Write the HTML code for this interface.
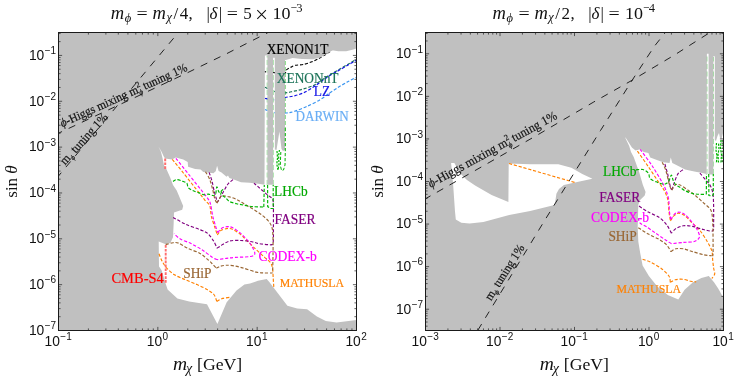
<!DOCTYPE html>
<html><head><meta charset="utf-8"><title>plot</title>
<style>html,body{margin:0;padding:0;background:#fff;overflow:hidden}svg{display:block;position:absolute;left:0;top:0;will-change:transform}.s{font-family:"Liberation Serif",serif}.n{font-family:"Liberation Sans",sans-serif}</style></head>
<body><svg width="747" height="381" viewBox="0 0 747 381">
<rect width="747" height="381" fill="#fff"/>
<rect x="58.5" y="32.5" width="298.0" height="298.0" fill="#c0c0c0"/>
<polygon points="158.4,146.2 160.2,149.5 161.7,152.0 163.5,156.0 165.0,158.5 172.1,159.4 175.8,157.5 183.2,159.4 187.7,162.1 188.1,166.7 195.1,168.9 200.6,169.5 203.3,171.9 213.4,173.2 215.7,171.3 217.1,165.8 218.6,171.0 221.5,172.4 226.5,176.7 228.0,175.6 229.4,177.9 233.8,179.6 241.0,182.2 249.6,182.8 258.3,183.7 264.5,184.7 264.9,55.6 267.4,55.6 267.4,184.7 273.1,184.7 273.1,57.7 274.8,57.7 274.9,149.5 276.5,150.0 279.4,131.4 281.5,149.0 283.0,151.0 285.0,150.0 285.0,60.2 292.6,58.1 302.0,58.9 313.0,59.2 320.9,57.3 327.2,53.4 332.0,50.2 338.3,51.3 346.1,51.3 352.4,49.8 356.5,48.5 356.5,320.0 336.6,322.6 325.8,321.0 316.9,316.5 307.1,309.2 297.2,308.6 287.4,305.7 269.7,282.6 266.7,279.1 257.9,280.7 250.0,283.6 244.4,284.6 236.5,290.5 226.7,302.3 217.4,324.0 207.0,304.3 189.2,301.4 177.4,298.4 167.6,289.5 165.6,283.6 161.6,270.2 159.0,266.4 158.7,241.6 165.7,244.2 170.3,243.1 173.0,237.2 173.6,225.0 174.0,212.4 182.2,209.7 183.2,206.0 178.6,195.0 176.7,190.6 173.0,185.0 170.3,177.7 166.6,169.5 163.9,164.9 162.5,158.0 161.0,152.0" fill="#fff"/>
<clipPath id="wl"><polygon points="158.4,146.2 160.2,149.5 161.7,152.0 163.5,156.0 165.0,158.5 172.1,159.4 175.8,157.5 183.2,159.4 187.7,162.1 188.1,166.7 195.1,168.9 200.6,169.5 203.3,171.9 213.4,173.2 215.7,171.3 217.1,165.8 218.6,171.0 221.5,172.4 226.5,176.7 228.0,175.6 229.4,177.9 233.8,179.6 241.0,182.2 249.6,182.8 258.3,183.7 264.5,184.7 264.9,55.6 267.4,55.6 267.4,184.7 273.1,184.7 273.1,57.7 274.8,57.7 274.9,149.5 276.5,150.0 279.4,131.4 281.5,149.0 283.0,151.0 285.0,150.0 285.0,60.2 292.6,58.1 302.0,58.9 313.0,59.2 320.9,57.3 327.2,53.4 332.0,50.2 338.3,51.3 346.1,51.3 352.4,49.8 356.5,48.5 356.5,320.0 336.6,322.6 325.8,321.0 316.9,316.5 307.1,309.2 297.2,308.6 287.4,305.7 269.7,282.6 266.7,279.1 257.9,280.7 250.0,283.6 244.4,284.6 236.5,290.5 226.7,302.3 217.4,324.0 207.0,304.3 189.2,301.4 177.4,298.4 167.6,289.5 165.6,283.6 161.6,270.2 159.0,266.4 158.7,241.6 165.7,244.2 170.3,243.1 173.0,237.2 173.6,225.0 174.0,212.4 182.2,209.7 183.2,206.0 178.6,195.0 176.7,190.6 173.0,185.0 170.3,177.7 166.6,169.5 163.9,164.9 162.5,158.0 161.0,152.0"/></clipPath>
<rect x="425.5" y="32.5" width="298.0" height="298.0" fill="#c0c0c0"/>
<polygon points="451.1,162.9 454.4,162.9 457.0,168.0 461.3,174.4 467.0,180.0 475.1,185.5 491.6,195.1 508.4,202.0 508.7,163.4 530.2,164.3 558.4,164.3 571.3,167.7 582.3,174.1 592.4,178.7 574.9,182.4 563.9,185.1 559.0,189.0 556.4,193.7 555.5,200.0 554.5,205.0 530.2,211.0 509.2,215.0 483.4,222.1 469.6,223.5 461.3,222.7 455.8,219.4 455.0,211.6 453.1,184.1" fill="#fff"/>
<polygon points="624.9,137.0 626.4,138.8 629.2,143.2 631.9,147.5 635.5,150.5 640.1,149.3 643.8,152.1 648.4,153.0 650.2,157.6 657.6,160.3 663.1,162.2 669.5,163.1 670.8,157.6 672.3,163.1 677.8,165.8 685.1,169.5 694.3,171.4 703.5,173.2 706.6,174.1 706.9,53.8 708.6,53.8 708.6,174.5 713.3,174.5 713.4,56.3 714.8,56.3 714.8,140.0 716.0,141.0 717.5,136.0 719.0,133.0 720.0,138.0 721.5,139.0 722.8,134.0 723.5,132.0 723.5,299.0 722.4,296.0 718.2,288.6 714.0,282.3 708.8,276.0 701.4,278.1 693.0,282.3 684.6,289.7 678.3,299.5 667.8,294.9 657.3,286.5 648.9,276.0 642.6,265.5 640.1,252.5 638.3,241.5 637.7,226.8 638.3,204.7 640.1,200.1 644.7,195.5 645.6,192.0 642.9,185.1 639.2,172.3 633.7,157.0 631.0,152.0 629.2,146.0" fill="#fff"/>
<path d="M172.3 159.4 C174.0 161.5 178.6 167.0 183.0 172.5 C187.4 178.0 196.2 189.2 199.7 193.6 C203.2 198.0 203.2 198.1 204.8 200.1 C206.4 202.1 208.8 203.4 209.8 205.9 C210.8 208.4 210.5 212.5 211.3 216.0 C212.1 219.5 213.9 224.5 214.9 227.5 C215.9 230.5 216.9 233.8 217.3 235.0" fill="none" stroke="#ff8000" stroke-width="1.15" stroke-dasharray="3.2 1.8" />
<path d="M217.3 235.0 C217.9 234.3 219.1 231.7 220.8 230.6 C222.5 229.5 225.9 228.5 228.0 228.4 C230.1 228.3 231.7 228.9 233.8 229.9 C235.9 230.9 239.0 233.3 241.0 234.9 C243.0 236.5 243.7 237.5 246.0 239.7 C248.3 241.9 252.3 245.9 255.2 248.7 C258.1 251.5 261.9 254.8 264.4 257.1 C266.9 259.4 269.3 260.9 270.6 262.8 C271.9 264.7 272.2 266.5 272.6 269.0 C273.0 271.5 273.0 275.3 273.2 278.2 C273.4 281.1 273.7 285.6 273.8 287.0" fill="none" stroke="#ff8000" stroke-width="1.15" stroke-dasharray="3.2 1.8" />
<path d="M159.0 253.8 C159.5 255.0 160.8 258.8 162.0 261.0 C163.2 263.2 164.5 265.6 166.5 267.8 C168.5 270.0 171.5 272.9 174.5 274.8 C177.5 276.7 181.7 278.1 185.3 279.7 C188.9 281.3 193.6 283.0 197.1 284.6 C200.6 286.2 204.3 287.9 207.0 289.5 C209.7 291.1 212.3 292.6 213.9 294.5 C215.5 296.4 216.3 300.3 216.8 301.4" fill="none" stroke="#ff8000" stroke-width="1.15" stroke-dasharray="3.2 1.8" />
<path d="M216.8 301.4 C217.7 300.9 220.7 299.0 222.7 298.4 C224.7 297.8 228.5 297.6 229.6 297.4" fill="none" stroke="#ff8000" stroke-width="1.15" stroke-dasharray="3.2 1.8" />
<path d="M175.9 158.3 C178.2 161.1 186.0 170.9 190.0 176.0 C194.0 181.1 198.3 186.3 201.2 190.0 C204.1 193.7 206.9 197.1 208.4 199.4 C209.9 201.7 209.9 201.7 210.6 204.4 C211.3 207.1 211.9 212.5 212.7 216.0 C213.5 219.5 214.8 223.4 215.6 226.1 C216.4 228.8 217.4 231.6 217.8 232.6" fill="none" stroke="#ff00ff" stroke-width="1.15" stroke-dasharray="3.2 1.8" />
<path d="M217.8 232.6 C218.4 231.9 219.9 229.4 221.4 228.4 C222.9 227.4 225.6 226.7 227.3 226.6 C229.0 226.5 230.3 226.7 232.3 227.6 C234.3 228.5 237.2 230.6 239.5 232.4 C241.8 234.2 244.5 236.9 246.5 239.1 C248.5 241.3 250.7 244.0 252.0 246.4 C253.3 248.8 255.1 252.2 254.8 253.8 C254.5 255.4 253.3 255.9 250.2 256.5 C247.1 257.1 239.3 257.1 235.5 257.4 C231.7 257.7 229.2 258.0 226.3 258.4 C223.4 258.8 218.6 259.4 217.1 259.6" fill="none" stroke="#ff00ff" stroke-width="1.15" stroke-dasharray="3.2 1.8" />
<path d="M217.1 259.6 C216.4 259.2 214.9 258.9 212.5 257.4 C210.1 255.9 205.8 252.3 202.4 250.1 C199.0 247.9 194.9 245.5 191.4 243.7 C187.9 241.9 183.2 240.7 180.4 239.1 C177.6 237.5 175.0 234.5 174.0 233.6" fill="none" stroke="#ff00ff" stroke-width="1.15" stroke-dasharray="3.2 1.8" />
<path d="M173.1 217.4 C175.1 218.5 181.5 222.4 185.9 224.4 C190.3 226.4 197.1 228.4 200.6 229.9 C204.1 231.4 205.8 231.8 207.9 233.6 C210.0 235.4 212.0 238.6 213.5 240.9 C215.0 243.2 216.5 247.0 217.1 248.2" fill="none" stroke="#800080" stroke-width="1.15" stroke-dasharray="3.2 1.8" />
<path d="M217.1 248.2 C218.0 247.6 220.5 245.8 222.6 244.6 C224.7 243.4 227.1 241.6 230.0 240.9 C232.9 240.2 237.5 240.4 241.0 240.5 C244.5 240.6 249.1 241.3 252.0 241.8 C254.9 242.3 256.8 243.3 259.4 243.7 C262.0 244.1 266.4 244.5 268.5 244.6 C270.6 244.7 271.8 245.3 272.6 244.2 C273.4 243.1 273.3 240.7 273.4 238.0 C273.5 235.3 273.4 232.8 273.4 227.5 C273.4 222.2 273.5 209.6 273.4 205.0 C273.3 200.4 273.3 200.5 272.5 199.0 C271.7 197.5 269.8 196.6 268.4 195.5 C267.0 194.4 265.6 193.3 264.0 191.9 C262.4 190.5 259.9 188.3 258.3 186.9 C256.7 185.5 254.7 183.8 254.0 183.2" fill="none" stroke="#800080" stroke-width="1.15" stroke-dasharray="3.2 1.8" />
<path d="M233.0 179.6 C232.2 180.3 229.5 182.1 228.0 184.0 C226.5 185.9 225.1 188.8 223.7 191.2 C222.3 193.6 220.3 197.3 219.3 199.1 C218.3 200.9 217.6 201.8 217.3 202.3" fill="none" stroke="#800080" stroke-width="1.15" stroke-dasharray="3.2 1.8" />
<path d="M209.1 172.4 C209.6 173.8 211.2 178.1 212.0 181.1 C212.8 184.1 213.5 188.4 214.2 191.2 C214.9 194.0 215.8 196.9 216.3 198.7 C216.8 200.5 217.1 201.7 217.3 202.3" fill="none" stroke="#800080" stroke-width="1.15" stroke-dasharray="3.2 1.8" />
<path d="M205.5 171.7 C206.2 173.0 208.6 176.7 209.8 179.6 C211.0 182.5 211.9 186.6 212.7 189.7 C213.5 192.8 214.2 196.9 214.9 199.1 C215.6 201.3 216.7 202.5 217.0 203.2" fill="none" stroke="#996633" stroke-width="1.15" stroke-dasharray="3.2 1.8" />
<path d="M217.0 203.2 C217.6 202.1 219.7 197.7 220.8 196.5 C221.9 195.3 222.3 195.7 223.7 195.8 C225.1 195.9 227.3 196.3 229.4 196.9 C231.5 197.5 234.3 198.3 236.6 199.4 C238.9 200.5 241.4 202.2 243.9 203.7 C246.4 205.2 249.7 207.1 252.5 208.8 C255.3 210.5 258.7 212.5 261.2 214.5 C263.7 216.5 266.7 218.9 268.4 221.0 C270.1 223.1 271.3 224.8 272.0 227.5 C272.7 230.2 272.8 233.2 273.0 237.6 C273.2 242.0 273.1 249.4 273.0 255.0 C272.9 260.6 272.7 269.8 272.6 272.6" fill="none" stroke="#996633" stroke-width="1.15" stroke-dasharray="3.2 1.8" />
<path d="M165.7 244.6 C166.9 244.3 170.9 242.9 173.0 242.7 C175.1 242.5 176.2 242.2 178.6 243.1 C181.0 244.0 184.3 246.7 187.7 248.3 C191.1 249.9 196.7 251.5 200.0 253.4 C203.3 255.3 206.4 258.4 208.5 260.2 C210.6 262.0 211.7 263.3 213.0 264.6 C214.3 265.9 215.9 267.7 216.4 268.3" fill="none" stroke="#996633" stroke-width="1.15" stroke-dasharray="3.2 1.8" />
<path d="M216.4 268.3 C217.0 268.0 218.7 266.8 220.2 266.3 C221.7 265.8 223.6 265.4 225.6 265.3 C227.6 265.2 229.9 265.2 232.6 265.6 C235.3 266.0 238.8 266.9 242.6 267.9 C246.4 268.9 252.7 271.3 256.3 272.1 C259.9 272.9 262.4 272.9 265.0 273.0 C267.6 273.1 271.3 273.0 272.5 273.0" fill="none" stroke="#996633" stroke-width="1.15" stroke-dasharray="3.2 1.8" />
<path d="M165.2 158.5 L165.2 169.5" fill="none" stroke="#ff6e6e" stroke-width="2.0" stroke-dasharray="2.7 1.2" />
<path d="M165.7 245.0 L165.7 284.0" fill="none" stroke="#ff6e6e" stroke-width="1.9" stroke-dasharray="2.7 1.2" />
<path d="M173.0 181.4 C173.6 181.1 175.1 179.6 176.6 179.6 C178.1 179.6 180.8 180.5 182.4 181.1 C184.0 181.7 185.9 182.2 186.8 183.2 C187.7 184.2 187.3 186.4 188.2 187.6 C189.1 188.8 190.9 189.7 192.5 190.5 C194.1 191.3 196.4 191.9 198.3 192.6 C200.2 193.3 202.5 194.6 204.1 194.8 C205.7 195.0 207.0 194.0 208.4 194.1 C209.8 194.2 211.5 195.5 212.7 195.5 C213.9 195.5 214.9 195.5 215.6 194.1 C216.3 192.7 216.3 187.4 216.8 186.9 C217.3 186.4 218.0 190.3 218.5 191.2 C219.0 192.1 219.2 192.8 219.9 192.6 C220.6 192.4 222.7 189.4 222.8 189.7 C222.9 190.0 220.4 193.1 220.8 194.3 C221.2 195.5 223.7 196.0 225.1 197.2 C226.5 198.4 227.6 200.5 229.4 201.5 C231.2 202.5 234.3 203.1 236.6 203.7 C238.9 204.3 241.4 204.7 243.9 205.2 C246.4 205.7 249.3 206.3 252.5 206.6 C255.7 206.9 262.0 206.9 263.8 207.0" fill="none" stroke="#00b400" stroke-width="1.15" stroke-dasharray="3.2 1.8" />
<path d="M263.8 207.0 L264.3 185.0" fill="none" stroke="#00b400" stroke-width="1.15" stroke-dasharray="3.2 1.8" />
<path d="M267.0 185.0 L267.0 56.0" fill="none" stroke="#00b400" stroke-width="0.7" stroke-dasharray="5 2.5" stroke-opacity="0.4"/>
<path d="M267.6 185.0 L267.7 206.6 L270.6 208.5 L273.2 208.5 L273.2 185.0" fill="none" stroke="#00b400" stroke-width="1.15" stroke-dasharray="3.2 1.8" />
<path d="M273.5 185.0 L273.5 58.0" fill="none" stroke="#00b400" stroke-width="0.7" stroke-dasharray="5 2.5" stroke-opacity="0.4"/>
<path d="M285.4 61.0 L285.4 128.0" fill="none" stroke="#00b400" stroke-width="0.8" stroke-dasharray="4 2" stroke-opacity="0.6"/>
<path d="M285.3 128.0 L285.3 150.0 L285.0 165.0 L283.5 170.0 L281.5 170.5 L280.3 165.0 L280.8 152.0" fill="none" stroke="#00b400" stroke-width="1.0" stroke-dasharray="3.2 1.8" />
<path d="M277.0 151.0 L277.5 158.0 L276.8 164.0 L278.0 170.0 L279.0 164.0 L278.6 156.0 L279.4 150.0" fill="none" stroke="#00b400" stroke-width="1.2" stroke-dasharray="2.2 1.2" />
<path d="M263.0 71.5 C264.8 71.7 270.5 72.4 274.0 72.6 C277.5 72.8 282.8 73.0 284.8 72.6 C286.8 72.2 285.6 70.7 286.5 69.9 C287.4 69.1 289.3 68.0 290.7 67.3 C292.1 66.6 292.9 65.8 295.0 65.3 C297.1 64.8 300.7 65.0 303.6 64.4 C306.5 63.8 310.2 62.4 313.0 61.3 C315.8 60.2 318.6 58.6 320.9 57.3 C323.2 56.0 325.4 54.5 327.2 53.4 C329.0 52.3 331.2 50.9 332.0 50.4" fill="none" stroke="#000" stroke-width="1.1" stroke-dasharray="3.2 1.8" clip-path="url(#wl)"/>
<path d="M265.0 87.3 C266.4 87.9 270.4 90.3 273.6 91.2 C276.8 92.1 281.7 92.8 285.0 92.8 C288.3 92.8 291.1 91.8 294.1 91.2 C297.1 90.6 300.6 89.8 303.6 88.9 C306.6 88.0 310.5 86.8 313.0 85.7 C315.5 84.6 316.8 83.4 319.3 81.8 C321.8 80.2 325.8 77.4 328.8 75.5 C331.8 73.6 335.3 71.7 338.3 69.9 C341.3 68.1 344.8 66.1 347.7 64.4 C350.6 62.7 355.1 60.1 356.5 59.3" fill="none" stroke="#1b7358" stroke-width="1.2" stroke-dasharray="3.2 1.8" clip-path="url(#wl)"/>
<path d="M265.0 98.3 C266.5 98.6 271.4 100.1 274.6 100.0 C277.8 99.9 281.9 98.2 285.0 97.5 C288.1 96.8 291.1 96.7 294.1 95.9 C297.1 95.1 300.6 94.2 303.6 92.8 C306.6 91.4 310.2 89.1 313.0 87.3 C315.8 85.5 318.4 83.6 320.9 81.8 C323.4 80.0 326.0 78.0 328.8 76.2 C331.6 74.4 335.3 72.5 338.3 70.7 C341.3 68.9 344.8 66.9 347.7 65.2 C350.6 63.5 355.1 61.0 356.5 60.2" fill="none" stroke="#1414e6" stroke-width="1.25" stroke-dasharray="3.2 1.8" clip-path="url(#wl)"/>
<path d="M265.0 109.5 C266.3 110.0 270.1 111.9 273.4 112.5 C276.7 113.1 282.5 113.2 285.9 113.0 C289.3 112.8 291.2 112.4 294.6 111.3 C298.0 110.2 303.1 108.1 307.1 106.3 C311.1 104.5 316.2 102.0 319.7 100.0 C323.2 98.0 325.8 95.6 328.8 93.6 C331.8 91.6 335.3 89.2 338.3 87.3 C341.3 85.4 344.8 83.4 347.7 81.8 C350.6 80.2 355.1 77.9 356.5 77.2" fill="none" stroke="#3c96f0" stroke-width="1.2" stroke-dasharray="3.2 1.8" clip-path="url(#wl)"/>
<path d="M509.0 163.5 L575.0 182.5" fill="none" stroke="#ff8000" stroke-width="1.15" stroke-dasharray="3.2 1.8" />
<path d="M637.4 151.1 C639.2 153.6 644.9 161.6 648.4 166.8 C651.9 172.0 656.9 179.6 659.4 183.3 C661.9 187.0 662.7 187.5 664.0 190.0 C665.3 192.5 666.9 195.7 667.7 199.2 C668.5 202.7 668.6 208.6 669.0 212.1 C669.4 215.6 670.2 219.5 670.4 220.9" fill="none" stroke="#ff8000" stroke-width="1.15" stroke-dasharray="3.2 1.8" />
<path d="M670.4 220.9 C671.0 220.1 672.8 216.9 674.1 215.7 C675.4 214.5 676.9 213.2 678.7 213.2 C680.5 213.2 682.9 214.3 685.1 215.9 C687.3 217.5 690.1 221.0 692.5 223.3 C694.9 225.6 697.5 227.5 699.9 230.4 C702.3 233.3 705.3 238.3 707.2 241.5 C709.1 244.7 710.9 247.7 711.8 250.7 C712.7 253.7 712.4 257.2 712.7 260.0 C713.0 262.8 713.3 265.8 713.6 268.0 C713.9 270.2 715.0 272.2 714.7 273.9 C714.4 275.6 712.3 277.8 711.9 278.5" fill="none" stroke="#ff8000" stroke-width="1.15" stroke-dasharray="3.2 1.8" />
<path d="M642.6 259.2 C643.9 259.7 648.0 260.9 651.0 262.4 C654.0 263.9 658.6 266.5 661.5 268.7 C664.4 270.9 667.5 273.8 668.9 276.0 C670.3 278.2 670.1 281.3 670.3 282.3" fill="none" stroke="#ff8000" stroke-width="1.15" stroke-dasharray="3.2 1.8" />
<path d="M670.3 282.3 C671.1 281.9 673.2 280.3 675.2 279.8 C677.2 279.3 680.0 279.0 682.5 279.2 C685.0 279.4 688.7 280.9 690.9 281.3 C693.1 281.7 695.4 281.8 696.2 281.9" fill="none" stroke="#ff8000" stroke-width="1.15" stroke-dasharray="3.2 1.8" />
<path d="M640.1 149.3 C642.0 151.9 648.6 160.5 652.1 165.8 C655.6 171.1 660.0 178.5 662.2 182.4 C664.4 186.3 664.8 187.3 665.8 190.0 C666.8 192.7 668.0 195.7 668.6 199.2 C669.2 202.7 669.1 208.9 669.5 212.1 C669.9 215.3 670.6 218.2 670.8 219.4" fill="none" stroke="#ff00ff" stroke-width="1.15" stroke-dasharray="3.2 1.8" />
<path d="M670.8 219.4 C671.5 218.5 673.6 214.9 675.0 213.7 C676.4 212.5 678.0 212.1 679.6 212.2 C681.2 212.3 683.0 212.9 685.1 214.6 C687.2 216.3 690.6 220.5 692.5 222.9 C694.4 225.3 696.0 227.3 697.1 229.5 C698.2 231.7 699.9 235.0 699.5 236.9 C699.1 238.8 696.9 240.6 694.3 241.5 C691.7 242.4 687.0 242.0 683.3 242.4 C679.6 242.8 673.3 243.5 671.4 243.7" fill="none" stroke="#ff00ff" stroke-width="1.15" stroke-dasharray="3.2 1.8" />
<path d="M671.4 243.7 C670.4 243.0 667.4 241.3 664.9 239.6 C662.4 237.9 658.6 235.2 655.7 233.2 C652.8 231.2 649.0 228.4 646.5 226.8 C644.0 225.2 641.4 224.4 640.1 223.1 C638.8 221.8 638.6 219.2 638.3 218.5" fill="none" stroke="#ff00ff" stroke-width="1.15" stroke-dasharray="3.2 1.8" />
<path d="M664.9 164.0 C665.3 165.6 666.8 170.4 667.7 174.1 C668.6 177.8 669.7 184.5 670.4 187.0 C671.1 189.5 671.7 189.3 671.9 189.7" fill="none" stroke="#800080" stroke-width="1.15" stroke-dasharray="3.2 1.8" />
<path d="M671.9 189.7 C672.3 188.7 673.2 185.8 674.1 183.3 C675.0 180.8 676.3 176.3 677.8 174.1 C679.3 171.9 682.4 170.2 683.3 169.5" fill="none" stroke="#800080" stroke-width="1.15" stroke-dasharray="3.2 1.8" />
<path d="M699.9 173.2 C700.8 174.2 703.8 177.7 705.4 179.6 C707.0 181.5 708.8 183.0 710.0 185.1 C711.2 187.2 712.1 189.3 712.7 192.5 C713.3 195.7 713.5 200.1 713.6 205.0 C713.7 209.9 713.7 219.0 713.6 223.1 C713.5 227.2 714.3 229.8 712.7 230.8 C711.1 231.8 706.7 230.2 703.5 229.5 C700.3 228.8 695.7 227.0 692.5 226.4 C689.3 225.8 685.9 225.4 683.3 225.8 C680.7 226.2 677.9 227.4 676.0 228.6 C674.1 229.8 672.1 232.5 671.4 233.2" fill="none" stroke="#800080" stroke-width="1.15" stroke-dasharray="3.2 1.8" />
<path d="M671.4 233.2 C670.7 231.9 668.7 227.4 666.8 224.9 C664.9 222.4 662.3 219.6 659.4 217.6 C656.5 215.6 651.8 214.0 648.4 212.1 C645.0 210.2 639.9 206.6 638.3 205.6" fill="none" stroke="#800080" stroke-width="1.15" stroke-dasharray="3.2 1.8" />
<path d="M662.2 162.2 C662.8 163.5 664.6 166.7 665.8 170.4 C667.0 174.1 668.5 181.9 669.5 185.1 C670.5 188.3 671.5 189.5 671.9 190.3" fill="none" stroke="#996633" stroke-width="1.15" stroke-dasharray="3.2 1.8" />
<path d="M671.9 190.3 C672.4 189.5 673.8 186.0 675.0 185.1 C676.2 184.2 677.4 183.9 679.6 184.8 C681.8 185.7 686.1 188.9 688.8 190.7 C691.5 192.5 693.8 194.2 696.2 196.2 C698.6 198.2 701.1 200.7 703.5 202.9 C705.9 205.1 709.4 207.0 710.9 210.2 C712.4 213.4 712.3 216.6 712.7 223.1 C713.1 229.6 713.1 245.4 713.1 250.7 C713.1 256.0 712.8 255.3 712.7 256.2" fill="none" stroke="#996633" stroke-width="1.15" stroke-dasharray="3.2 1.8" />
<path d="M638.3 227.7 C639.9 228.7 645.0 232.2 648.4 234.1 C651.8 236.0 656.5 237.8 659.4 239.6 C662.3 241.4 665.0 243.2 666.8 245.1 C668.6 247.0 670.2 250.6 670.8 251.6" fill="none" stroke="#996633" stroke-width="1.15" stroke-dasharray="3.2 1.8" />
<path d="M670.8 251.6 C671.6 251.2 674.0 249.2 676.0 248.8 C678.0 248.4 680.7 248.4 683.3 248.8 C685.9 249.2 689.3 250.7 692.5 251.6 C695.7 252.5 700.4 254.0 703.5 254.7 C706.6 255.4 710.5 255.6 711.8 255.8" fill="none" stroke="#996633" stroke-width="1.15" stroke-dasharray="3.2 1.8" />
<path d="M636.0 169.8 C637.1 169.8 640.9 169.0 642.9 169.5 C644.9 170.0 647.2 171.7 648.4 173.2 C649.6 174.7 648.7 177.2 650.2 178.7 C651.7 180.2 655.5 181.5 657.6 182.4 C659.7 183.3 661.6 184.1 663.1 184.2 C664.6 184.3 665.8 184.0 666.8 183.3 C667.8 182.6 668.8 180.9 669.5 179.6 C670.2 178.3 670.8 174.9 671.4 175.0 C672.0 175.1 672.5 178.9 673.2 180.5 C673.9 182.1 675.0 184.1 676.0 185.1 C677.0 186.1 678.1 186.1 679.6 187.0 C681.1 187.9 683.0 189.7 685.1 190.7 C687.2 191.7 690.1 192.8 692.5 193.4 C694.9 194.0 697.7 194.2 699.9 194.3 C702.1 194.4 705.3 194.3 706.3 194.3" fill="none" stroke="#00b400" stroke-width="1.15" stroke-dasharray="3.2 1.8" />
<path d="M706.3 194.3 L706.5 174.0" fill="none" stroke="#00b400" stroke-width="1.15" stroke-dasharray="3.2 1.8" />
<path d="M707.2 174.0 L707.2 55.0" fill="none" stroke="#00b400" stroke-width="0.7" stroke-dasharray="5 2.5" stroke-opacity="0.4"/>
<path d="M708.7 174.0 L708.9 195.5 L711.8 196.0 L713.3 195.0 L713.3 174.0" fill="none" stroke="#00b400" stroke-width="1.15" stroke-dasharray="3.2 1.8" />
<path d="M713.5 174.0 L713.5 57.0" fill="none" stroke="#00b400" stroke-width="0.7" stroke-dasharray="5 2.5" stroke-opacity="0.4"/>
<path d="M716.5 143.0 L716.0 150.0 L717.0 156.0 L716.5 162.0 L718.5 162.0 L718.0 155.0 L719.0 148.0 L718.5 143.0" fill="none" stroke="#00b400" stroke-width="1.2" stroke-dasharray="2.2 1.2" />
<path d="M721.0 140.0 L720.5 148.0 L721.5 155.0 L721.0 162.0 L723.0 162.0 L723.2 150.0 L723.0 140.0" fill="none" stroke="#00b400" stroke-width="1.2" stroke-dasharray="2.2 1.2" />
<clipPath id="cl"><rect x="58.5" y="32.5" width="298" height="298"/></clipPath>
<clipPath id="cr"><rect x="425.5" y="32.5" width="298" height="298"/></clipPath>
<g clip-path="url(#cl)" stroke="#222" stroke-width="1" stroke-dasharray="7.3 7.3" fill="none">
<path d="M58.5 133.2 L130.6 99.5 L186.3 73.3 L227 53.5 L267.7 32.7 L270 31.5" stroke-dashoffset="3.4"/>
<path d="M58.5 176 L178.8 32 L180 30.5" stroke-dashoffset="3"/>
</g>
<g clip-path="url(#cr)" stroke="#222" stroke-width="1" stroke-dasharray="7.3 7.3" fill="none">
<path d="M425.9 198.5 L474.8 170.7 L535.5 136.1 L593.2 102.3 L632 80.3 L674 55.3 L711 31.8" stroke-dashoffset="2"/>
<path d="M477.8 330.3 L544 221.5 L600.5 130.5 L622.3 96 L632 80.5 L646 59 L654.6 46 L665.8 31.9 L667 30.5"/>
</g>
<rect x="58.5" y="32.5" width="298.0" height="298.0" fill="none" stroke="#1a1a1a" stroke-width="1"/>
<path d="M58.50 330.5 v-3.6 M58.50 32.5 v3.6 M88.40 330.5 v-2.1 M88.40 32.5 v2.1 M105.89 330.5 v-2.1 M105.89 32.5 v2.1 M118.30 330.5 v-2.1 M118.30 32.5 v2.1 M127.93 330.5 v-2.1 M127.93 32.5 v2.1 M135.80 330.5 v-2.1 M135.80 32.5 v2.1 M142.45 330.5 v-2.1 M142.45 32.5 v2.1 M148.21 330.5 v-2.1 M148.21 32.5 v2.1 M153.29 330.5 v-2.1 M153.29 32.5 v2.1 M157.83 330.5 v-3.6 M157.83 32.5 v3.6 M187.74 330.5 v-2.1 M187.74 32.5 v2.1 M205.23 330.5 v-2.1 M205.23 32.5 v2.1 M217.64 330.5 v-2.1 M217.64 32.5 v2.1 M227.26 330.5 v-2.1 M227.26 32.5 v2.1 M235.13 330.5 v-2.1 M235.13 32.5 v2.1 M241.78 330.5 v-2.1 M241.78 32.5 v2.1 M247.54 330.5 v-2.1 M247.54 32.5 v2.1 M252.62 330.5 v-2.1 M252.62 32.5 v2.1 M257.17 330.5 v-3.6 M257.17 32.5 v3.6 M287.07 330.5 v-2.1 M287.07 32.5 v2.1 M304.56 330.5 v-2.1 M304.56 32.5 v2.1 M316.97 330.5 v-2.1 M316.97 32.5 v2.1 M326.60 330.5 v-2.1 M326.60 32.5 v2.1 M334.46 330.5 v-2.1 M334.46 32.5 v2.1 M341.11 330.5 v-2.1 M341.11 32.5 v2.1 M346.87 330.5 v-2.1 M346.87 32.5 v2.1 M351.95 330.5 v-2.1 M351.95 32.5 v2.1 M356.50 330.5 v-3.6 M356.50 32.5 v3.6 M58.5 330.50 h3.6 M356.5 330.50 h-3.6 M58.5 316.69 h2.1 M356.5 316.69 h-2.1 M58.5 308.62 h2.1 M356.5 308.62 h-2.1 M58.5 302.89 h2.1 M356.5 302.89 h-2.1 M58.5 298.45 h2.1 M356.5 298.45 h-2.1 M58.5 294.82 h2.1 M356.5 294.82 h-2.1 M58.5 291.75 h2.1 M356.5 291.75 h-2.1 M58.5 289.09 h2.1 M356.5 289.09 h-2.1 M58.5 286.75 h2.1 M356.5 286.75 h-2.1 M58.5 284.65 h3.6 M356.5 284.65 h-3.6 M58.5 270.85 h2.1 M356.5 270.85 h-2.1 M58.5 262.78 h2.1 M356.5 262.78 h-2.1 M58.5 257.05 h2.1 M356.5 257.05 h-2.1 M58.5 252.61 h2.1 M356.5 252.61 h-2.1 M58.5 248.97 h2.1 M356.5 248.97 h-2.1 M58.5 245.91 h2.1 M356.5 245.91 h-2.1 M58.5 243.25 h2.1 M356.5 243.25 h-2.1 M58.5 240.90 h2.1 M356.5 240.90 h-2.1 M58.5 238.80 h3.6 M356.5 238.80 h-3.6 M58.5 225.00 h2.1 M356.5 225.00 h-2.1 M58.5 216.93 h2.1 M356.5 216.93 h-2.1 M58.5 211.20 h2.1 M356.5 211.20 h-2.1 M58.5 206.76 h2.1 M356.5 206.76 h-2.1 M58.5 203.13 h2.1 M356.5 203.13 h-2.1 M58.5 200.06 h2.1 M356.5 200.06 h-2.1 M58.5 197.40 h2.1 M356.5 197.40 h-2.1 M58.5 195.06 h2.1 M356.5 195.06 h-2.1 M58.5 192.96 h3.6 M356.5 192.96 h-3.6 M58.5 179.16 h2.1 M356.5 179.16 h-2.1 M58.5 171.08 h2.1 M356.5 171.08 h-2.1 M58.5 165.36 h2.1 M356.5 165.36 h-2.1 M58.5 160.91 h2.1 M356.5 160.91 h-2.1 M58.5 157.28 h2.1 M356.5 157.28 h-2.1 M58.5 154.21 h2.1 M356.5 154.21 h-2.1 M58.5 151.55 h2.1 M356.5 151.55 h-2.1 M58.5 149.21 h2.1 M356.5 149.21 h-2.1 M58.5 147.11 h3.6 M356.5 147.11 h-3.6 M58.5 133.31 h2.1 M356.5 133.31 h-2.1 M58.5 125.24 h2.1 M356.5 125.24 h-2.1 M58.5 119.51 h2.1 M356.5 119.51 h-2.1 M58.5 115.07 h2.1 M356.5 115.07 h-2.1 M58.5 111.44 h2.1 M356.5 111.44 h-2.1 M58.5 108.37 h2.1 M356.5 108.37 h-2.1 M58.5 105.71 h2.1 M356.5 105.71 h-2.1 M58.5 103.36 h2.1 M356.5 103.36 h-2.1 M58.5 101.27 h3.6 M356.5 101.27 h-3.6 M58.5 87.46 h2.1 M356.5 87.46 h-2.1 M58.5 79.39 h2.1 M356.5 79.39 h-2.1 M58.5 73.66 h2.1 M356.5 73.66 h-2.1 M58.5 69.22 h2.1 M356.5 69.22 h-2.1 M58.5 65.59 h2.1 M356.5 65.59 h-2.1 M58.5 62.52 h2.1 M356.5 62.52 h-2.1 M58.5 59.86 h2.1 M356.5 59.86 h-2.1 M58.5 57.52 h2.1 M356.5 57.52 h-2.1 M58.5 55.42 h3.6 M356.5 55.42 h-3.6 M58.5 41.62 h2.1 M356.5 41.62 h-2.1 M58.5 33.55 h2.1 M356.5 33.55 h-2.1 " stroke="#222" stroke-width="0.7" fill="none"/>
<rect x="425.5" y="32.5" width="298.0" height="298.0" fill="none" stroke="#1a1a1a" stroke-width="1"/>
<path d="M425.50 330.5 v-3.6 M425.50 32.5 v3.6 M447.93 330.5 v-2.1 M447.93 32.5 v2.1 M461.05 330.5 v-2.1 M461.05 32.5 v2.1 M470.35 330.5 v-2.1 M470.35 32.5 v2.1 M477.57 330.5 v-2.1 M477.57 32.5 v2.1 M483.47 330.5 v-2.1 M483.47 32.5 v2.1 M488.46 330.5 v-2.1 M488.46 32.5 v2.1 M492.78 330.5 v-2.1 M492.78 32.5 v2.1 M496.59 330.5 v-2.1 M496.59 32.5 v2.1 M500.00 330.5 v-3.6 M500.00 32.5 v3.6 M522.43 330.5 v-2.1 M522.43 32.5 v2.1 M535.55 330.5 v-2.1 M535.55 32.5 v2.1 M544.85 330.5 v-2.1 M544.85 32.5 v2.1 M552.07 330.5 v-2.1 M552.07 32.5 v2.1 M557.97 330.5 v-2.1 M557.97 32.5 v2.1 M562.96 330.5 v-2.1 M562.96 32.5 v2.1 M567.28 330.5 v-2.1 M567.28 32.5 v2.1 M571.09 330.5 v-2.1 M571.09 32.5 v2.1 M574.50 330.5 v-3.6 M574.50 32.5 v3.6 M596.93 330.5 v-2.1 M596.93 32.5 v2.1 M610.05 330.5 v-2.1 M610.05 32.5 v2.1 M619.35 330.5 v-2.1 M619.35 32.5 v2.1 M626.57 330.5 v-2.1 M626.57 32.5 v2.1 M632.47 330.5 v-2.1 M632.47 32.5 v2.1 M637.46 330.5 v-2.1 M637.46 32.5 v2.1 M641.78 330.5 v-2.1 M641.78 32.5 v2.1 M645.59 330.5 v-2.1 M645.59 32.5 v2.1 M649.00 330.5 v-3.6 M649.00 32.5 v3.6 M671.43 330.5 v-2.1 M671.43 32.5 v2.1 M684.55 330.5 v-2.1 M684.55 32.5 v2.1 M693.85 330.5 v-2.1 M693.85 32.5 v2.1 M701.07 330.5 v-2.1 M701.07 32.5 v2.1 M706.97 330.5 v-2.1 M706.97 32.5 v2.1 M711.96 330.5 v-2.1 M711.96 32.5 v2.1 M716.28 330.5 v-2.1 M716.28 32.5 v2.1 M720.09 330.5 v-2.1 M720.09 32.5 v2.1 M723.50 330.5 v-3.6 M723.50 32.5 v3.6 M425.5 326.16 h2.1 M723.5 326.16 h-2.1 M425.5 322.03 h2.1 M723.5 322.03 h-2.1 M425.5 318.66 h2.1 M723.5 318.66 h-2.1 M425.5 315.81 h2.1 M723.5 315.81 h-2.1 M425.5 313.34 h2.1 M723.5 313.34 h-2.1 M425.5 311.16 h2.1 M723.5 311.16 h-2.1 M425.5 309.22 h3.6 M723.5 309.22 h-3.6 M425.5 296.40 h2.1 M723.5 296.40 h-2.1 M425.5 288.90 h2.1 M723.5 288.90 h-2.1 M425.5 283.59 h2.1 M723.5 283.59 h-2.1 M425.5 279.46 h2.1 M723.5 279.46 h-2.1 M425.5 276.09 h2.1 M723.5 276.09 h-2.1 M425.5 273.24 h2.1 M723.5 273.24 h-2.1 M425.5 270.77 h2.1 M723.5 270.77 h-2.1 M425.5 268.59 h2.1 M723.5 268.59 h-2.1 M425.5 266.64 h3.6 M723.5 266.64 h-3.6 M425.5 253.83 h2.1 M723.5 253.83 h-2.1 M425.5 246.33 h2.1 M723.5 246.33 h-2.1 M425.5 241.01 h2.1 M723.5 241.01 h-2.1 M425.5 236.89 h2.1 M723.5 236.89 h-2.1 M425.5 233.52 h2.1 M723.5 233.52 h-2.1 M425.5 230.67 h2.1 M723.5 230.67 h-2.1 M425.5 228.20 h2.1 M723.5 228.20 h-2.1 M425.5 226.02 h2.1 M723.5 226.02 h-2.1 M425.5 224.07 h3.6 M723.5 224.07 h-3.6 M425.5 211.26 h2.1 M723.5 211.26 h-2.1 M425.5 203.76 h2.1 M723.5 203.76 h-2.1 M425.5 198.44 h2.1 M723.5 198.44 h-2.1 M425.5 194.32 h2.1 M723.5 194.32 h-2.1 M425.5 190.95 h2.1 M723.5 190.95 h-2.1 M425.5 188.10 h2.1 M723.5 188.10 h-2.1 M425.5 185.63 h2.1 M723.5 185.63 h-2.1 M425.5 183.45 h2.1 M723.5 183.45 h-2.1 M425.5 181.50 h3.6 M723.5 181.50 h-3.6 M425.5 168.69 h2.1 M723.5 168.69 h-2.1 M425.5 161.19 h2.1 M723.5 161.19 h-2.1 M425.5 155.87 h2.1 M723.5 155.87 h-2.1 M425.5 151.75 h2.1 M723.5 151.75 h-2.1 M425.5 148.38 h2.1 M723.5 148.38 h-2.1 M425.5 145.53 h2.1 M723.5 145.53 h-2.1 M425.5 143.06 h2.1 M723.5 143.06 h-2.1 M425.5 140.88 h2.1 M723.5 140.88 h-2.1 M425.5 138.93 h3.6 M723.5 138.93 h-3.6 M425.5 126.12 h2.1 M723.5 126.12 h-2.1 M425.5 118.62 h2.1 M723.5 118.62 h-2.1 M425.5 113.30 h2.1 M723.5 113.30 h-2.1 M425.5 109.18 h2.1 M723.5 109.18 h-2.1 M425.5 105.81 h2.1 M723.5 105.81 h-2.1 M425.5 102.96 h2.1 M723.5 102.96 h-2.1 M425.5 100.49 h2.1 M723.5 100.49 h-2.1 M425.5 98.31 h2.1 M723.5 98.31 h-2.1 M425.5 96.36 h3.6 M723.5 96.36 h-3.6 M425.5 83.55 h2.1 M723.5 83.55 h-2.1 M425.5 76.05 h2.1 M723.5 76.05 h-2.1 M425.5 70.73 h2.1 M723.5 70.73 h-2.1 M425.5 66.61 h2.1 M723.5 66.61 h-2.1 M425.5 63.23 h2.1 M723.5 63.23 h-2.1 M425.5 60.38 h2.1 M723.5 60.38 h-2.1 M425.5 57.92 h2.1 M723.5 57.92 h-2.1 M425.5 55.74 h2.1 M723.5 55.74 h-2.1 M425.5 53.79 h3.6 M723.5 53.79 h-3.6 M425.5 40.97 h2.1 M723.5 40.97 h-2.1 M425.5 33.48 h2.1 M723.5 33.48 h-2.1 " stroke="#222" stroke-width="0.7" fill="none"/>
<text x="56.2" y="334.796" text-anchor="end" class="n" font-size="13.8" fill="#111">10<tspan dy="-5.5" dx="0.5" font-size="10">−7</tspan></text>
<text x="56.2" y="288.95" text-anchor="end" class="n" font-size="13.8" fill="#111">10<tspan dy="-5.5" dx="0.5" font-size="10">−6</tspan></text>
<text x="56.2" y="243.10399999999998" text-anchor="end" class="n" font-size="13.8" fill="#111">10<tspan dy="-5.5" dx="0.5" font-size="10">−5</tspan></text>
<text x="56.2" y="197.25799999999998" text-anchor="end" class="n" font-size="13.8" fill="#111">10<tspan dy="-5.5" dx="0.5" font-size="10">−4</tspan></text>
<text x="56.2" y="151.412" text-anchor="end" class="n" font-size="13.8" fill="#111">10<tspan dy="-5.5" dx="0.5" font-size="10">−3</tspan></text>
<text x="56.2" y="105.56599999999999" text-anchor="end" class="n" font-size="13.8" fill="#111">10<tspan dy="-5.5" dx="0.5" font-size="10">−2</tspan></text>
<text x="56.2" y="59.72" text-anchor="end" class="n" font-size="13.8" fill="#111">10<tspan dy="-5.5" dx="0.5" font-size="10">−1</tspan></text>
<text x="58.1" y="345.9" text-anchor="middle" class="n" font-size="13.8" fill="#111">10<tspan dy="-5.5" dx="0.5" font-size="10">−1</tspan></text>
<text x="157.4333333333333" y="345.9" text-anchor="middle" class="n" font-size="13.8" fill="#111">10<tspan dy="-5.5" dx="0.5" font-size="10">0</tspan></text>
<text x="256.76666666666665" y="345.9" text-anchor="middle" class="n" font-size="13.8" fill="#111">10<tspan dy="-5.5" dx="0.5" font-size="10">1</tspan></text>
<text x="356.1" y="345.9" text-anchor="middle" class="n" font-size="13.8" fill="#111">10<tspan dy="-5.5" dx="0.5" font-size="10">2</tspan></text>
<text x="423.2" y="313.516" text-anchor="end" class="n" font-size="13.8" fill="#111">10<tspan dy="-5.5" dx="0.5" font-size="10">−7</tspan></text>
<text x="423.2" y="270.945" text-anchor="end" class="n" font-size="13.8" fill="#111">10<tspan dy="-5.5" dx="0.5" font-size="10">−6</tspan></text>
<text x="423.2" y="228.374" text-anchor="end" class="n" font-size="13.8" fill="#111">10<tspan dy="-5.5" dx="0.5" font-size="10">−5</tspan></text>
<text x="423.2" y="185.803" text-anchor="end" class="n" font-size="13.8" fill="#111">10<tspan dy="-5.5" dx="0.5" font-size="10">−4</tspan></text>
<text x="423.2" y="143.232" text-anchor="end" class="n" font-size="13.8" fill="#111">10<tspan dy="-5.5" dx="0.5" font-size="10">−3</tspan></text>
<text x="423.2" y="100.66099999999999" text-anchor="end" class="n" font-size="13.8" fill="#111">10<tspan dy="-5.5" dx="0.5" font-size="10">−2</tspan></text>
<text x="423.2" y="58.089999999999996" text-anchor="end" class="n" font-size="13.8" fill="#111">10<tspan dy="-5.5" dx="0.5" font-size="10">−1</tspan></text>
<text x="425.1" y="345.9" text-anchor="middle" class="n" font-size="13.8" fill="#111">10<tspan dy="-5.5" dx="0.5" font-size="10">−3</tspan></text>
<text x="499.6" y="345.9" text-anchor="middle" class="n" font-size="13.8" fill="#111">10<tspan dy="-5.5" dx="0.5" font-size="10">−2</tspan></text>
<text x="574.1" y="345.9" text-anchor="middle" class="n" font-size="13.8" fill="#111">10<tspan dy="-5.5" dx="0.5" font-size="10">−1</tspan></text>
<text x="648.6" y="345.9" text-anchor="middle" class="n" font-size="13.8" fill="#111">10<tspan dy="-5.5" dx="0.5" font-size="10">0</tspan></text>
<text x="723.1" y="345.9" text-anchor="middle" class="n" font-size="13.8" fill="#111">10<tspan dy="-5.5" dx="0.5" font-size="10">1</tspan></text>
<text transform="translate(266.7 54) scale(0.9434 1)" class="s" font-size="14.20" fill="#000" stroke="#000" stroke-width="0.18" >XENON1T</text>
<text transform="translate(276.8 83.3) scale(0.9434 1)" class="s" font-size="14.20" fill="#1b7358" stroke="#1b7358" stroke-width="0.18" >XENONnT</text>
<text transform="translate(313.8 95.5) scale(0.9434 1)" class="s" font-size="14.20" fill="#1414e6" stroke="#1414e6" stroke-width="0.18" >LZ</text>
<text transform="translate(295.6 120.5) scale(0.9434 1)" class="s" font-size="13.89" fill="#6aaef5" stroke="#6aaef5" stroke-width="0.18" >DARWIN</text>
<text transform="translate(274.1 195.5) scale(0.9434 1)" class="s" font-size="14.20" fill="#00a800" stroke="#00a800" stroke-width="0.18" >LHCb</text>
<text transform="translate(274.4 223.8) scale(0.9434 1)" class="s" font-size="14.31" fill="#800080" stroke="#800080" stroke-width="0.18" >FASER</text>
<text transform="translate(258.6 260.5) scale(0.9434 1)" class="s" font-size="14.42" fill="#ff00ff" stroke="#ff00ff" stroke-width="0.18" >CODEX-b</text>
<text transform="translate(279.7 287.2) scale(0.9434 1)" class="s" font-size="12.56" fill="#ff8000" stroke="#ff8000" stroke-width="0.18" >MATHUSLA</text>
<text transform="translate(183.2 278.1) scale(0.9434 1)" class="s" font-size="14.20" fill="#996633" stroke="#996633" stroke-width="0.18" >SHiP</text>
<text transform="translate(111.4 283.4) scale(0.9434 1)" class="s" font-size="15.37" fill="#ff0000" stroke="#ff0000" stroke-width="0.18" >CMB-S4</text>
<text transform="translate(603.0 176.3) scale(0.9434 1)" class="s" font-size="14.20" fill="#00a800" stroke="#00a800" stroke-width="0.18" >LHCb</text>
<text transform="translate(599.2 202) scale(0.9434 1)" class="s" font-size="14.31" fill="#800080" stroke="#800080" stroke-width="0.18" >FASER</text>
<text transform="translate(591.0 222) scale(0.9434 1)" class="s" font-size="14.42" fill="#ff00ff" stroke="#ff00ff" stroke-width="0.18" >CODEX-b</text>
<text transform="translate(608.4 240.5) scale(0.9434 1)" class="s" font-size="14.20" fill="#996633" stroke="#996633" stroke-width="0.18" >SHiP</text>
<text transform="translate(616.6 293) scale(0.9434 1)" class="s" font-size="12.56" fill="#ff8000" stroke="#ff8000" stroke-width="0.18" >MATHUSLA</text>
<text transform="translate(62.3 127.2) rotate(-24.3) scale(0.9434 1)" class="s" font-size="12.14" fill="#111" stroke="#111" stroke-width="0.18"><tspan font-style="italic">ϕ</tspan>-Higgs mixing m<tspan dy="-5" font-size="8.6">2</tspan><tspan dy="8" dx="-4.4" font-size="8" font-style="italic">ϕ</tspan><tspan dy="-3"> tuning 1%</tspan></text>
<text transform="translate(65.1 165.5) rotate(-47.7) scale(0.9434 1)" class="s" font-size="12.51" fill="#111" stroke="#111" stroke-width="0.18">m<tspan dy="2.5" font-size="7.5" font-style="italic">ϕ</tspan><tspan dy="-2.5"> tuning 1%</tspan></text>
<text transform="translate(430.8 188.0) rotate(-28.8) scale(0.9434 1)" class="s" font-size="12.77" fill="#111" stroke="#111" stroke-width="0.18"><tspan font-style="italic">ϕ</tspan>-Higgs mixing m<tspan dy="-5" font-size="8.6">2</tspan><tspan dy="8" dx="-4.4" font-size="8" font-style="italic">ϕ</tspan><tspan dy="-3"> tuning 1%</tspan></text>
<text transform="translate(490.9 301.2) rotate(-57.5) scale(0.9434 1)" class="s" font-size="12.30" fill="#111" stroke="#111" stroke-width="0.18">m<tspan dy="2.5" font-size="7.5" font-style="italic">ϕ</tspan><tspan dy="-2.5"> tuning 1%</tspan></text>
<text x="110.8" y="19.0" class="s" font-size="18.5" fill="#111" font-style="italic">m</text>
<text x="124.8" y="22.4" class="s" font-size="12.5" fill="#111" font-style="italic">ϕ</text>
<text x="136.6" y="19.0" class="s" font-size="17" fill="#111" textLength="11.2" lengthAdjust="spacingAndGlyphs">=</text>
<text x="152.6" y="19.0" class="s" font-size="18.5" fill="#111" font-style="italic">m</text>
<text x="166.4" y="21.4" class="s" font-size="12.5" fill="#111" font-style="italic">χ</text>
<text x="173.4" y="19.0" class="s" font-size="17" fill="#111">/</text>
<text x="179.8" y="19.0" class="s" font-size="17" fill="#111">4</text>
<text x="188.6" y="19.0" class="s" font-size="17" fill="#111">,</text>
<text x="206.4" y="19.0" class="s" font-size="17" fill="#111">|</text>
<text x="209.6" y="19.0" class="s" font-size="17" fill="#111" font-style="italic">δ</text>
<text x="218.7" y="19.0" class="s" font-size="17" fill="#111">|</text>
<text x="226.8" y="19.0" class="s" font-size="17" fill="#111" textLength="11.2" lengthAdjust="spacingAndGlyphs">=</text>
<text x="492.6" y="19.0" class="s" font-size="18.5" fill="#111" font-style="italic">m</text>
<text x="506.6" y="22.4" class="s" font-size="12.5" fill="#111" font-style="italic">ϕ</text>
<text x="518.4" y="19.0" class="s" font-size="17" fill="#111" textLength="11.2" lengthAdjust="spacingAndGlyphs">=</text>
<text x="534.4" y="19.0" class="s" font-size="18.5" fill="#111" font-style="italic">m</text>
<text x="548.2" y="21.4" class="s" font-size="12.5" fill="#111" font-style="italic">χ</text>
<text x="555.2" y="19.0" class="s" font-size="17" fill="#111">/</text>
<text x="561.6" y="19.0" class="s" font-size="17" fill="#111">2</text>
<text x="570.4" y="19.0" class="s" font-size="17" fill="#111">,</text>
<text x="588.2" y="19.0" class="s" font-size="17" fill="#111">|</text>
<text x="591.4" y="19.0" class="s" font-size="17" fill="#111" font-style="italic">δ</text>
<text x="600.5" y="19.0" class="s" font-size="17" fill="#111">|</text>
<text x="608.6" y="19.0" class="s" font-size="17" fill="#111" textLength="11.2" lengthAdjust="spacingAndGlyphs">=</text>
<text x="243.2" y="19.0" class="s" font-size="17" fill="#111">5</text>
<path d="M257.3 10.2 L265.9 18.8 M265.9 10.2 L257.3 18.8" stroke="#111" stroke-width="1.05" fill="none"/>
<text x="272.4" y="19.0" class="s" font-size="17" fill="#111" textLength="18.0" lengthAdjust="spacingAndGlyphs">10</text>
<text x="290.4" y="12.3" class="s" font-size="12.5" fill="#111" textLength="6.4" lengthAdjust="spacingAndGlyphs">−</text>
<text x="296.2" y="12.3" class="s" font-size="12.5" fill="#111">3</text>
<text x="625.0" y="19.0" class="s" font-size="17" fill="#111" textLength="18.0" lengthAdjust="spacingAndGlyphs">10</text>
<text x="643.0" y="12.3" class="s" font-size="12.5" fill="#111" textLength="6.4" lengthAdjust="spacingAndGlyphs">−</text>
<text x="648.8" y="12.3" class="s" font-size="12.5" fill="#111">4</text>
<text x="173.0" y="370.1" class="s" font-size="19.5" fill="#111" font-style="italic">m</text>
<text x="186.0" y="372.6" class="s" font-size="14" fill="#111" font-style="italic">χ</text>
<text x="197.0" y="370.1" class="s" font-size="17.2" fill="#111" textLength="45.2" lengthAdjust="spacingAndGlyphs">[GeV]</text>
<text x="539.8" y="370.1" class="s" font-size="19.5" fill="#111" font-style="italic">m</text>
<text x="552.8" y="372.6" class="s" font-size="14" fill="#111" font-style="italic">χ</text>
<text x="563.8" y="370.1" class="s" font-size="17.2" fill="#111" textLength="45.2" lengthAdjust="spacingAndGlyphs">[GeV]</text>
<text transform="translate(16.8 181.5) rotate(-90)" text-anchor="middle" class="s" font-size="17" fill="#111">sin <tspan font-style="italic">θ</tspan></text>
<text transform="translate(383.4 181.5) rotate(-90)" text-anchor="middle" class="s" font-size="17" fill="#111">sin <tspan font-style="italic">θ</tspan></text>
</svg></body></html>
